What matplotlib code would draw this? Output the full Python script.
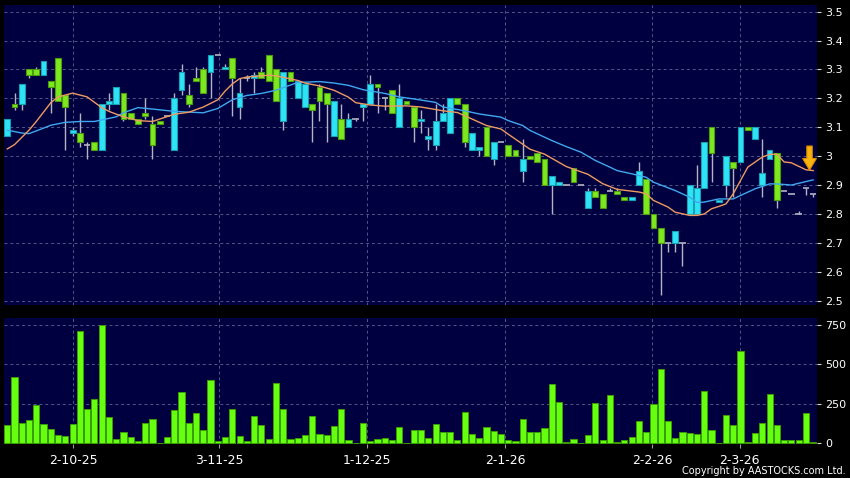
import matplotlib
matplotlib.use("Agg")
import matplotlib.pyplot as plt
from matplotlib.patches import FancyArrow
import numpy as np

# --- data (one entry per trading day) ---
opens = [3.07, 3.18, 3.18, 3.30, 3.30, 3.28, 3.26, 3.34, 3.21, 3.08,
         3.08, 3.04, 3.05, 3.02, 3.18, 3.18, 3.22, 3.15, 3.13, 3.15,
         3.11, 3.12, 3.14, 3.02, 3.23, 3.21, 3.27, 3.30, 3.29, 3.35,
         3.30, 3.34, 3.17, 3.27, 3.27, 3.29, 3.35, 3.30, 3.12, 3.29,
         3.20, 3.17, 3.18, 3.24, 3.22, 3.07, 3.13, 3.10, 3.13, 3.17,
         3.18, 3.25, 3.20, 3.23, 3.10, 3.19, 3.17, 3.12, 3.06, 3.04,
         3.12, 3.08, 3.20, 3.18, 3.02, 3.02, 3.10, 2.99, 3.05, 3.04,
         3.02, 2.95, 3.00, 3.01, 2.99, 2.90, 2.90, 2.90, 2.96, 2.90,
         2.82, 2.88, 2.87, 2.88, 2.88, 2.86, 2.85, 2.90, 2.92, 2.80,
         2.75, 2.70, 2.70, 2.70, 2.80, 2.80, 2.89, 3.10, 2.84, 2.90,
         2.98, 2.98, 3.10, 3.06, 2.90, 2.99, 3.01, 2.88, 2.87, 2.80,
         2.89, 2.87]
highs = [3.13, 3.22, 3.25, 3.30, 3.31, 3.33, 3.26, 3.34, 3.21, 3.10,
         3.15, 3.05, 3.05, 3.18, 3.22, 3.24, 3.22, 3.15, 3.13, 3.20,
         3.14, 3.12, 3.14, 3.22, 3.32, 3.25, 3.31, 3.31, 3.35, 3.35,
         3.32, 3.34, 3.27, 3.28, 3.29, 3.31, 3.35, 3.30, 3.29, 3.29,
         3.26, 3.25, 3.18, 3.25, 3.22, 3.19, 3.18, 3.15, 3.13, 3.18,
         3.28, 3.25, 3.20, 3.23, 3.25, 3.19, 3.17, 3.16, 3.10, 3.18,
         3.18, 3.20, 3.20, 3.18, 3.08, 3.03, 3.10, 3.05, 3.05, 3.04,
         3.02, 3.06, 3.00, 3.01, 2.99, 2.93, 2.91, 2.90, 2.96, 2.90,
         2.89, 2.89, 2.87, 2.89, 2.89, 2.86, 2.86, 2.98, 2.92, 2.80,
         2.75, 2.70, 2.74, 2.70, 2.90, 2.97, 3.05, 3.10, 2.85, 3.00,
         2.98, 3.10, 3.10, 3.10, 3.06, 3.02, 3.01, 2.88, 2.87, 2.81,
         2.89, 2.87]
lows = [3.07, 3.16, 3.16, 3.27, 3.28, 3.28, 3.15, 3.19, 3.02, 3.07,
        3.03, 2.99, 3.02, 3.02, 3.16, 3.18, 3.12, 3.13, 3.11, 3.13,
        2.99, 3.11, 3.14, 3.02, 3.21, 3.17, 3.26, 3.22, 3.20, 3.35,
        3.30, 3.14, 3.13, 3.26, 3.22, 3.27, 3.26, 3.19, 3.09, 3.26,
        3.20, 3.17, 3.05, 3.12, 3.05, 3.07, 3.06, 3.10, 3.12, 3.12,
        3.18, 3.15, 3.16, 3.15, 3.10, 3.18, 3.05, 3.08, 3.02, 3.02,
        3.12, 3.08, 3.18, 3.03, 3.02, 3.00, 3.00, 2.97, 3.05, 3.00,
        3.00, 2.91, 2.99, 2.98, 2.90, 2.80, 2.90, 2.90, 2.91, 2.90,
        2.82, 2.86, 2.82, 2.88, 2.87, 2.85, 2.85, 2.90, 2.80, 2.75,
        2.52, 2.67, 2.67, 2.62, 2.80, 2.80, 2.89, 2.91, 2.84, 2.86,
        2.86, 2.98, 3.09, 3.06, 2.86, 2.99, 2.82, 2.88, 2.87, 2.80,
        2.865, 2.86]
closes = [3.13, 3.17, 3.25, 3.28, 3.28, 3.33, 3.24, 3.19, 3.17, 3.09,
          3.05, 3.04, 3.02, 3.18, 3.19, 3.24, 3.13, 3.13, 3.11, 3.14,
          3.04, 3.11, 3.14, 3.20, 3.29, 3.18, 3.26, 3.22, 3.35, 3.35,
          3.31, 3.27, 3.22, 3.27, 3.28, 3.27, 3.26, 3.19, 3.29, 3.26,
          3.26, 3.25, 3.16, 3.19, 3.18, 3.19, 3.06, 3.13, 3.13, 3.18,
          3.25, 3.24, 3.20, 3.15, 3.20, 3.18, 3.10, 3.13, 3.07, 3.12,
          3.15, 3.20, 3.18, 3.05, 3.08, 3.03, 3.00, 3.05, 3.05, 3.00,
          3.00, 2.99, 2.99, 2.98, 2.90, 2.93, 2.91, 2.90, 2.91, 2.90,
          2.88, 2.86, 2.82, 2.88, 2.87, 2.85, 2.86, 2.95, 2.80, 2.75,
          2.70, 2.70, 2.74, 2.70, 2.90, 2.89, 3.05, 3.01, 2.85, 3.00,
          2.96, 3.10, 3.09, 3.10, 2.94, 3.02, 2.85, 2.88, 2.87, 2.80,
          2.89, 2.87]
volumes = [116, 418, 129, 148, 241, 120, 91, 53, 49, 123,
           710, 215, 281, 750, 169, 27, 70, 40, 15, 129,
           154, 3, 40, 213, 325, 127, 190, 82, 403, 15,
           42, 215, 46, 17, 171, 114, 25, 382, 218, 30,
           32, 51, 171, 57, 53, 112, 218, 19, 2, 127,
           13, 27, 34, 23, 104, 2, 85, 87, 36, 120,
           74, 72, 19, 199, 61, 34, 104, 78, 61, 23,
           13, 152, 74, 74, 95, 374, 260, 11, 25, 1,
           53, 254, 21, 304, 6, 19, 40, 142, 70, 249,
           473, 142, 36, 74, 68, 59, 330, 82, 1, 177,
           118, 585, 8, 63, 127, 313, 114, 19, 23, 23,
           190, 8]

# moving averages at selected days
ma10_days = [0, 1, 3, 4, 6, 7, 9, 11, 13, 14, 16, 18, 20, 23, 25, 27, 29, 30,
             31, 32, 33, 36, 37, 40, 41, 43, 45, 47, 48, 50, 52, 55, 57, 60, 62,
             63, 66, 68, 69, 72, 74, 77, 80, 82, 84, 87, 88, 89, 91, 92, 94, 95,
             96, 97, 98, 99, 100, 101, 102, 104, 105, 106, 107, 108, 109, 110, 111]
ma10_vals = [3.025, 3.04, 3.09, 3.12, 3.185, 3.205, 3.218, 3.205, 3.168, 3.155,
             3.136, 3.123, 3.12, 3.145, 3.152, 3.17, 3.195, 3.225, 3.25, 3.268,
             3.274, 3.28, 3.278, 3.262, 3.253, 3.243, 3.228, 3.204, 3.185, 3.177,
             3.173, 3.174, 3.17, 3.157, 3.151, 3.14, 3.106, 3.094, 3.076, 3.024,
             3.007, 2.964, 2.937, 2.905, 2.885, 2.876, 2.87, 2.847, 2.824, 2.806,
             2.795, 2.795, 2.80, 2.818, 2.826, 2.835, 2.87, 2.916, 2.962, 2.997,
             3.006, 3.007, 2.98, 2.977, 2.965, 2.953, 2.95]
ma20_days = [0, 2, 3, 5, 6, 8, 10, 12, 15, 16, 18, 20, 23, 27, 29, 31, 33, 35,
             37, 40, 43, 45, 47, 49, 52, 54, 56, 59, 60, 63, 65, 68, 69, 71, 72,
             75, 77, 79, 81, 83, 84, 86, 88, 89, 92, 94, 95, 96, 98, 100, 101,
             103, 105, 106, 108, 109, 111]
ma20_vals = [3.09, 3.08, 3.078, 3.097, 3.107, 3.117, 3.12, 3.12, 3.136, 3.15,
             3.168, 3.163, 3.155, 3.15, 3.165, 3.195, 3.21, 3.217, 3.228, 3.255,
             3.258, 3.253, 3.245, 3.23, 3.217, 3.205, 3.198, 3.186, 3.17, 3.157,
             3.146, 3.135, 3.123, 3.106, 3.089, 3.054, 3.033, 3.014, 2.985, 2.962,
             2.95, 2.939, 2.927, 2.91, 2.881, 2.858, 2.84, 2.841, 2.852, 2.852,
             2.864, 2.887, 2.904, 2.904, 2.90, 2.906, 2.918]

date_labels = ['2-10-25', '3-11-25', '1-12-25', '2-1-26', '2-2-26', '2-3-26']
date_pos = [9.1, 29.2, 49.5, 68.6, 88.8, 100.9]
price_ticks = [2.5, 2.6, 2.7, 2.8, 2.9, 3.0, 3.1, 3.2, 3.3, 3.4, 3.5]
price_tick_labels = ['2.5', '2.6', '2.7', '2.8', '2.9', '3', '3.1', '3.2', '3.3', '3.4', '3.5']
vol_ticks = [0, 250, 500, 750]

# --- colours ---
BG = '#000040'
GRID = '#4f5888'
UP = '#2fe3f7'
UP_EDGE = '#1a9fb2'
DOWN = '#7ee81e'
DOWN_EDGE = '#4c9c12'
WICK = '#b4b4c4'
VOL = '#66ff10'
VOL_EDGE = '#3a9e00'

o = np.array(opens)
h = np.array(highs)
l = np.array(lows)
c = np.array(closes)
x = np.arange(len(o))

fig = plt.figure(figsize=(8.5, 4.78), dpi=100, facecolor='black')
ax = fig.add_axes([4 / 850, 1 - 305 / 478, 813 / 850, 300 / 478])
axv = fig.add_axes([4 / 850, 1 - 444 / 478, 813 / 850, 126 / 478])

for a in (ax, axv):
    a.set_facecolor(BG)
    for s in a.spines.values():
        s.set_visible(False)
    a.set_xlim(-0.45, 111.53)
    for p in date_pos:
        a.axvline(p, color=GRID, lw=0.7, ls=(0, (3, 3)), zorder=0)

# --- price panel ---
ax.set_ylim(2.485, 3.523)
for yv in price_ticks:
    ax.axhline(yv, color=GRID, lw=0.7, ls=(0, (3, 3)), zorder=0)

# wicks
ax.vlines(x, l, h, color=WICK, lw=1, zorder=2)

up = c > o
down = c < o
flat = c == o
ax.bar(x[up], (c - o)[up], bottom=o[up], width=0.8, color=UP,
       edgecolor=UP_EDGE, linewidth=0.8, zorder=3)
ax.bar(x[down], (o - c)[down], bottom=c[down], width=0.8, color=DOWN,
       edgecolor=DOWN_EDGE, linewidth=0.8, zorder=3)
ax.hlines(c[flat], x[flat] - 0.45, x[flat] + 0.45, color=WICK, lw=1.2, zorder=3)

# moving averages
ax.plot(ma20_days, ma20_vals, color='#3fa8ee', lw=1.0, zorder=4)
ax.plot(ma10_days, ma10_vals, color='#ee9a62', lw=1.0, zorder=4)

# yellow arrow on the last day
arr = FancyArrow(110.5, 3.035, 0, -0.083, width=0.75, head_width=1.9,
                 head_length=0.04, length_includes_head=True,
                 facecolor='#f6b40c', edgecolor='#e08a00', linewidth=0.8, zorder=6)
ax.add_patch(arr)

ax.yaxis.tick_right()
ax.set_yticks(price_ticks)
ax.set_yticklabels(price_tick_labels)
ax.set_xticks([])
ax.tick_params(axis='y', colors='#d8d8d8', labelcolor='white', length=3,
               width=0.8, pad=3, labelsize=8)

# --- volume panel ---
axv.set_ylim(-4.4, 794)
for yv in vol_ticks[1:]:
    axv.axhline(yv, color=GRID, lw=0.7, ls=(0, (3, 3)), zorder=0)
axv.bar(x, volumes, width=0.85, color=VOL, edgecolor=VOL_EDGE, linewidth=0.7, zorder=3)
axv.yaxis.tick_right()
axv.set_yticks(vol_ticks)
axv.set_yticklabels([str(v) for v in vol_ticks])
axv.set_xticks(date_pos)
axv.set_xticklabels(date_labels)
axv.tick_params(axis='y', colors='#d8d8d8', labelcolor='white', length=3,
                width=0.8, pad=3, labelsize=8)
axv.tick_params(axis='x', colors='#9a9a9a', labelcolor='white', length=3,
                width=0.8, pad=4, labelsize=9)

fig.text(0.9953, 0.0146, 'Copyright by AASTOCKS.com Ltd.', ha='right', va='center',
         color='white', fontsize=7)

fig.savefig('out.png', dpi=100, facecolor='black')
